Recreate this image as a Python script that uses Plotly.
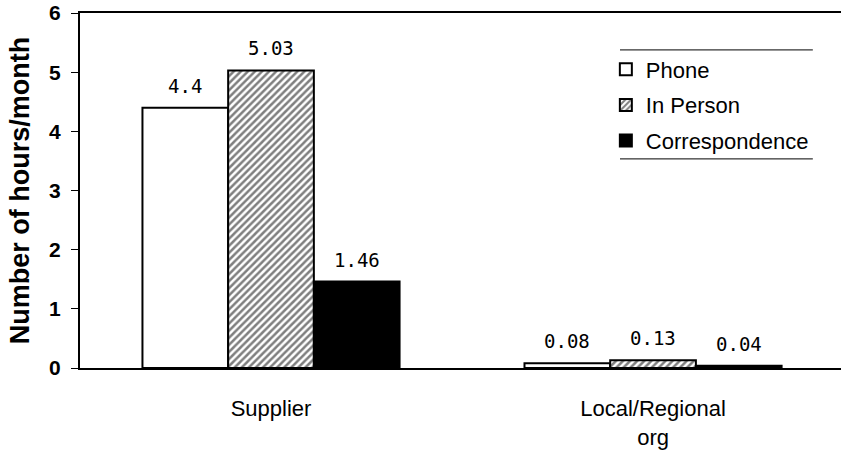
import plotly.graph_objects as go

categories = ["Supplier", "Local/Regional<br>org"]
series_names = ["Phone", "In Person", "Correspondence"]
phone = [4.4, 0.08]
in_person = [5.03, 0.13]
correspondence = [1.46, 0.04]
y_ticks = [0, 1, 2, 3, 4, 5, 6]

values = [phone, in_person, correspondence]
W, H = 841, 457
ML, MR, MT, MB = 80, 0, 13, 89
BARGAP = 0.327
X_RANGE = [-0.5, 1.492]
FONT = "Arial, Liberation Sans, Helvetica, sans-serif"
MONO = "DejaVu Sans Mono, Liberation Mono, monospace"

styles = [
    dict(color="white", pattern=None),
    dict(color="white", pattern=dict(shape="/", fgcolor="black", bgcolor="white", size=5, solidity=0.5)),
    dict(color="black", pattern=None),
]

fig = go.Figure()
for i, (name, vals) in enumerate(zip(series_names, values)):
    marker = dict(color=styles[i]["color"], line=dict(color="black", width=2))
    if styles[i]["pattern"]:
        marker["pattern"] = styles[i]["pattern"]
    fig.add_trace(go.Bar(x=categories, y=vals, name=name, marker=marker,
                         legendgroup=name, hoverinfo="skip", cliponaxis=False))

# value labels above bars
plot_w = W - ML - MR
cat_px = plot_w / (X_RANGE[1] - X_RANGE[0])
bar_px = cat_px * (1 - BARGAP) / len(series_names)
annotations = []
for i, vals in enumerate(values):
    for cat, v in zip(categories, vals):
        txt = f"{v:.2f}" if round(v, 2) != round(v, 1) else f"{v:g}"
        annotations.append(dict(
            x=cat, y=v, xref="x", yref="y", text=txt,
            showarrow=False, xshift=(i - 1) * bar_px, yshift=22, yanchor="middle",
            font=dict(family=MONO, size=19, color="black")))

fig.update_layout(
    width=W, height=H,
    margin=dict(l=ML, r=MR, t=MT, b=MB),
    paper_bgcolor="white", plot_bgcolor="white",
    barmode="group", bargap=BARGAP, bargroupgap=0,
    font=dict(family=FONT, color="black"),
    showlegend=True,
    legend=dict(x=0.691, y=0.900, xanchor="left", yanchor="top",
                bgcolor="rgba(0,0,0,0)", borderwidth=0,
                font=dict(family=FONT, size=22, color="black"),
                traceorder="grouped", tracegroupgap=4),
    annotations=annotations,
    shapes=[
        dict(type="line", xref="paper", yref="paper", x0=0.7096, x1=0.963, y0=0.896, y1=0.896,
             line=dict(color="black", width=1)),
        dict(type="line", xref="paper", yref="paper", x0=0.7096, x1=0.963, y0=0.589, y1=0.589,
             line=dict(color="black", width=1)),
    ],
)
fig.update_xaxes(range=X_RANGE, showline=True, linecolor="black", linewidth=2, mirror=True,
                 ticks="", tickfont=dict(family=FONT, size=22, color="black"),
                 ticklabelstandoff=20, showgrid=False, automargin=False)
fig.update_yaxes(range=[0, 6], tickvals=y_ticks, showline=True, linecolor="black", linewidth=2,
                 ticks="outside", ticklen=7, tickcolor="black", showgrid=False, zeroline=False,
                 tickfont=dict(family=FONT, size=21, color="black", weight="bold"),
                 ticklabelstandoff=6,
                 automargin=False,
                 title=dict(text="Number of hours/month",
                            font=dict(family=FONT, size=27, color="black", weight="bold"),
                            standoff=12))

fig.write_html("out.html",
               config={"displayModeBar": False},
               post_script="document.body.style.margin='0';document.body.style.overflow='hidden';")
